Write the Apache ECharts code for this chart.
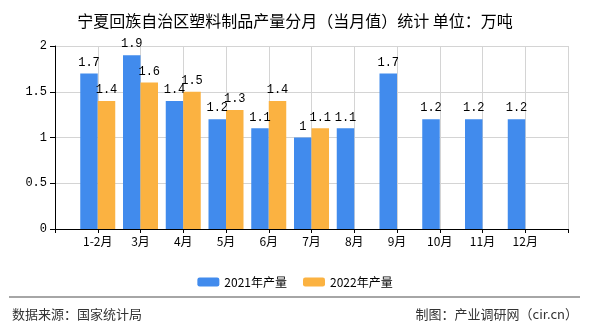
<!DOCTYPE html>
<html><head><meta charset="utf-8">
<script src="https://cdn.jsdelivr.net/npm/echarts@6/dist/echarts.min.js"></script>
<style>html,body{margin:0;padding:0;background:#fff}#c{width:590px;height:330px}</style>
</head><body><div id="c"></div>
<script>
const categories = ['1-2月','3月','4月','5月','6月','7月','8月','9月','10月','11月','12月'];
const values2021 = [1.7,1.9,1.4,1.2,1.1,1,1.1,1.7,1.2,1.2,1.2];
const values2022 = [1.4,1.6,1.5,1.3,1.4,1.1,null,null,null,null,null];
const yTicks = [0,0.5,1,1.5,2];
const seriesNames = ['2021年产量','2022年产量'];

const pad = arr => ['-'].concat(arr.map(v => v == null ? '-' : v)).concat(['-']);
const axisCats = [''].concat(categories).concat(['']);
const numFont = 'Liberation Mono, DejaVu Sans Mono, monospace';
const cjk = 'Noto Sans CJK SC, sans-serif';

const chart = echarts.init(document.getElementById('c'));
const lbl = {show:true, position:'top', distance:5, color:'#000', fontSize:12, fontFamily:numFont};
chart.setOption({
  animation:false,
  title:{text:'宁夏回族自治区塑料制品产量分月（当月值）统计 单位：万吨', left:'center', top:8,
    textStyle:{fontSize:16, fontWeight:'normal', color:'#000', fontFamily:cjk}},
  grid:{left:55, right:22, top:46, bottom:101},
  legend:{data:seriesNames, top:271, left:'center', itemWidth:22, itemHeight:9, itemGap:16,
    textStyle:{fontSize:12, color:'#000', fontFamily:cjk}},
  xAxis:{type:'category', data:axisCats, boundaryGap:false,
    axisLine:{lineStyle:{color:'#000', width:1}},
    axisTick:{show:true, interval:0, length:4, lineStyle:{color:'#000'}},
    axisLabel:{interval:0, color:'#000', fontSize:12, fontFamily:cjk, margin:6},
    splitLine:{show:true, interval:0, lineStyle:{color:'#d4d4d4'}}},
  yAxis:{type:'value', min:yTicks[0], max:yTicks[yTicks.length-1], interval:0.5,
    axisLine:{show:true, lineStyle:{color:'#000'}},
    axisTick:{show:true, length:5, lineStyle:{color:'#000'}},
    axisLabel:{color:'#000', fontSize:12, fontFamily:numFont, margin:8},
    splitLine:{lineStyle:{color:'#d4d4d4'}}},
  series:[
    {name:seriesNames[0], type:'bar', data:pad(values2021), barWidth:17.5, barGap:'0%',
      itemStyle:{color:'#418BED'}, label:lbl},
    {name:seriesNames[1], type:'bar', data:pad(values2022), barWidth:17.5, barGap:'0%',
      itemStyle:{color:'#FBB241'}, label:lbl}
  ],
  graphic:[
    {type:'line', shape:{x1:9,y1:297,x2:580,y2:297}, style:{stroke:'#888', lineWidth:1.5}},
    {type:'text', left:12, top:308, style:{text:'数据来源：国家统计局', fontSize:13, fill:'#333', fontFamily:cjk}},
    {type:'text', right:12, top:308, style:{text:'制图：产业调研网（cir.cn）', fontSize:13, fill:'#333', fontFamily:cjk}}
  ]
});
</script></body></html>
